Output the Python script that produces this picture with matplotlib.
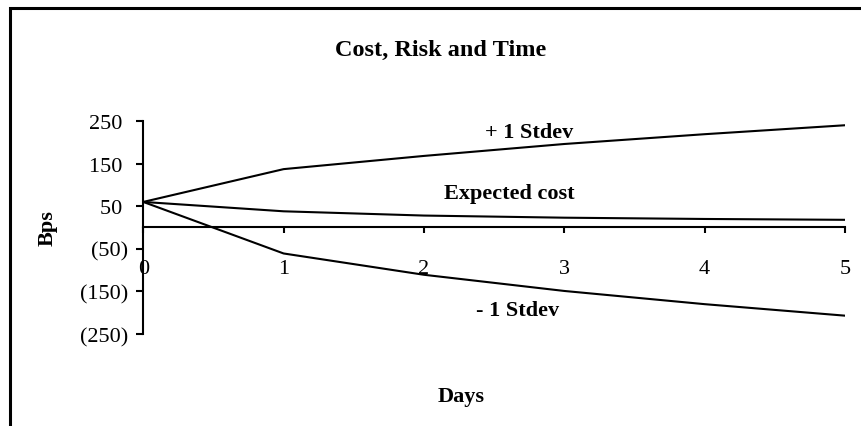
import numpy as np
import matplotlib.pyplot as plt
from matplotlib.patches import Rectangle
from matplotlib.ticker import FuncFormatter

plt.rcParams['font.family'] = ['Liberation Serif', 'DejaVu Serif']

days = [0, 1, 2, 3, 4, 5]
expected_cost = [60, 38, 28, 23, 20, 18]
plus_stdev = [60, 137, 168, 196, 219, 240]
minus_stdev = [60, -61, -111, -149, -180, -207]
y_ticks = [250, 150, 50, -50, -150, -250]

def bps_fmt(v, pos):
    # accounting style: negatives in brackets
    if v < 0:
        return "({0:.0f})".format(-v)
    return "{0:.0f} ".format(v)

fs = 16
fig = plt.figure(figsize=(8.61, 4.27), dpi=100)
ax = fig.add_axes([0.1664, 0.2155, 0.815, 0.4988])

lw = 1.5
ax.plot(days, plus_stdev, color='black', lw=lw)
ax.plot(days, expected_cost, color='black', lw=lw)
ax.plot(days, minus_stdev, color='black', lw=lw)

ax.set_xlim(0, 5)
ax.set_ylim(-250, 250)
ax.set_yticks(y_ticks)
ax.set_xticks(days)
ax.yaxis.set_major_formatter(FuncFormatter(bps_fmt))

for s in ['top', 'right']:
    ax.spines[s].set_visible(False)
ax.spines['bottom'].set_position(('data', 0))
ax.spines['bottom'].set_linewidth(1.5)
ax.spines['left'].set_linewidth(1.5)
ax.tick_params(axis='y', direction='out', length=5, width=1.5, pad=6, labelsize=fs)
ax.tick_params(axis='x', direction='out', length=4.3, width=1.5, pad=18.5, labelsize=fs)

ax.text(2.75, 225, "+ 1 Stdev", ha='center', va='center', fontsize=fs, fontweight='bold')
ax.text(2.61, 81, "Expected cost", ha='center', va='center', fontsize=fs, fontweight='bold')
ax.text(2.67, -194, "- 1 Stdev", ha='center', va='center', fontsize=fs, fontweight='bold')

fig.text(0.512, 0.869, "Cost, Risk and Time", ha='center', va='baseline', fontsize=17.5, fontweight='bold')
fig.text(0.5354, 0.0585, "Days", ha='center', va='baseline', fontsize=fs, fontweight='bold')
fig.text(0.0557, 0.466, "Bps", ha='center', va='center', rotation=90, fontsize=fs, fontweight='bold')

# chart frame
fig.patches.append(Rectangle((10 / 861, -0.1), 1.1, 1.1 - 8.5 / 427, transform=fig.transFigure,
                             fill=False, edgecolor='black', lw=2.2, clip_on=False))

fig.savefig("out.png", dpi=100)
